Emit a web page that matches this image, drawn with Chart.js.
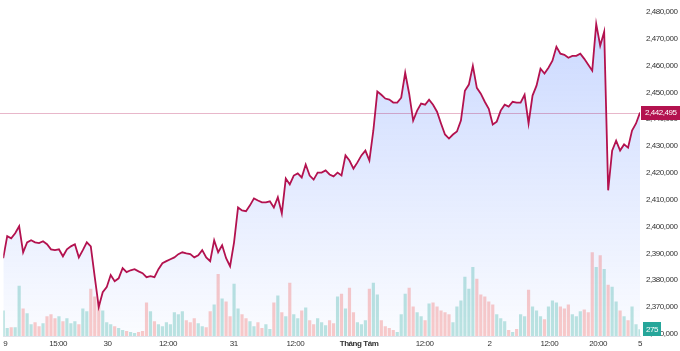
<!DOCTYPE html>
<html>
<head>
<meta charset="utf-8">
<script src="https://cdn.jsdelivr.net/npm/chart.js@4"></script>
<style>
  html, body { margin: 0; padding: 0; background: #fff; }
  #wrap { width: 680px; height: 351px; }
</style>
</head>
<body>
<div id="wrap"><canvas id="myChart"></canvas></div>
<script>
// giá đóng cửa theo từng nhịp
const prices = [
  2388200, 2396400, 2395600, 2397500, 2400100, 2390400, 2394100, 2394900, 2394100, 2393800,
  2394500, 2393400, 2391500, 2391200, 2391500, 2388900, 2391500, 2392600, 2393400, 2388500,
  2391200, 2394100, 2392600, 2381100, 2370000, 2375500, 2377400, 2381900, 2379600, 2380700,
  2384500, 2383000, 2383700, 2384100, 2383300, 2382600, 2381100, 2381500, 2381100, 2384100,
  2386300, 2387100, 2387800, 2388500, 2389700, 2390400, 2390000, 2389700, 2388500, 2389300,
  2391200, 2388500, 2387100, 2394900, 2390400, 2393000, 2388200, 2385200, 2394100, 2407100,
  2406000, 2405700, 2407900, 2410500, 2409700, 2409000, 2409000, 2409400, 2407100, 2410900,
  2404900, 2417900, 2415700, 2419000, 2419800, 2418300, 2423100, 2419000, 2417500, 2420100,
  2420100, 2420900, 2419400, 2418700, 2420100, 2419000, 2426500, 2424600, 2421600, 2423900,
  2426500, 2428300, 2424600, 2435800, 2450300, 2449100, 2447700, 2447300, 2446200, 2446200,
  2448000, 2457300, 2449500, 2439500, 2443200, 2445800, 2445400, 2447300, 2445400, 2442800,
  2438400, 2434300, 2432800, 2434300, 2435400, 2439500, 2450600, 2452900, 2459900, 2451700,
  2449500, 2446500, 2443900, 2438000, 2439100, 2443200, 2445400, 2444700, 2446500, 2446200,
  2446200, 2449100, 2438400, 2448800, 2452500, 2458800, 2457000, 2459200, 2461800, 2467000,
  2464400, 2464000, 2462900, 2463600, 2463600, 2464400, 2462500, 2460300, 2458100, 2475500,
  2467400, 2472600, 2413500, 2428300, 2432000, 2428300, 2430600, 2429400, 2435800, 2438400,
  2442495
];

// khối lượng theo từng nhịp
const volumes = [
  1040, 320, 360, 360, 2040, 1120, 920, 480, 560, 400,
  520, 800, 880, 720, 800, 600, 720, 520, 600, 480,
  1120, 1000, 1920, 1600, 1400, 1040, 560, 480, 400, 320,
  240, 200, 160, 120, 160, 200, 1360, 1000, 600, 480,
  400, 560, 480, 960, 880, 1000, 640, 560, 720, 520,
  400, 360, 1000, 1280, 2520, 1520, 1400, 800, 2120, 1120,
  880, 720, 600, 400, 560, 320, 480, 280, 1360, 1640,
  960, 800, 2160, 880, 720, 1040, 1160, 640, 480, 720,
  560, 440, 640, 520, 1600, 1720, 1120, 1960, 960, 560,
  480, 640, 1920, 2160, 1680, 640, 400, 320, 240, 160,
  880, 1720, 1960, 1200, 960, 800, 640, 1320, 1360, 1200,
  1040, 960, 880, 560, 1200, 1440, 2400, 1920, 2800, 2320,
  1680, 1600, 1400, 1280, 880, 720, 600, 240, 160, 280,
  880, 800, 1880, 1200, 1040, 800, 680, 1200, 1440, 1360,
  1200, 1120, 1280, 880, 800, 1000, 1080, 960, 3400, 2800,
  3280, 2720, 2080, 2000, 1400, 1040, 800, 640, 1200, 480,
  275
];

// nhãn trục thời gian (vị trí theo số nhịp)
const xTickPos = [0.5, 13.8, 26.2, 41.4, 57.9, 73.4, 89.4, 105.9, 122.2, 137.2, 149.5, 160];
const xTickLabels = ['9', '15:00', '30', '12:00', '31', '12:00', 'Tháng Tám', '12:00', '2', '12:00', '20:00', '5'];

// nhãn trục giá
const yTickValues = [2360000, 2370000, 2380000, 2390000, 2400000, 2410000, 2420000,
  2430000, 2440000, 2450000, 2460000, 2470000, 2480000];

const lastPrice = prices[prices.length - 1];
const lastVolume = volumes[volumes.length - 1];

const idx = prices.map((p, i) => i);
const lineColor = '#b3124f';
const fontFamily = '"Liberation Sans", Arial, sans-serif';

const volColors = volumes.map((v, i) =>
  (i === 0 || prices[i] >= prices[i - 1]) ? 'rgba(38,166,154,0.3)' : 'rgba(239,83,80,0.3)');

const fmt = v => v.toLocaleString('en-US');

// chữ hẹp hơn một chút cho giống nhãn gốc
const tightText = {
  id: 'tightText',
  beforeDraw(chart) { chart.ctx.letterSpacing = '-0.45px'; }
};

// đường giá cuối + nhãn bên phải
const lastPricePlugin = {
  id: 'lastPrice',
  beforeDatasetsDraw(chart) {
    const { ctx, chartArea, scales } = chart;
    const y = Math.round(scales.y.getPixelForValue(lastPrice)) + 0.5;
    ctx.save();
    ctx.strokeStyle = 'rgba(179,18,79,0.3)';
    ctx.lineWidth = 1;
    ctx.beginPath();
    ctx.moveTo(0, y);
    ctx.lineTo(chartArea.right, y);
    ctx.stroke();
    ctx.restore();
  },
  afterDraw(chart) {
    const { ctx, chartArea, scales } = chart;
    ctx.save();
    ctx.font = '8px ' + fontFamily;
    ctx.textBaseline = 'middle';

    let y = scales.y.getPixelForValue(lastPrice);
    ctx.fillStyle = lineColor;
    ctx.fillRect(chartArea.right + 1, Math.round(y) - 7, 39, 14);
    ctx.fillStyle = '#fff';
    ctx.textAlign = 'left';
    ctx.fillText(fmt(lastPrice), chartArea.right + 5, y + 0.5);

    y = scales.y2.getPixelForValue(lastVolume);
    ctx.fillStyle = '#26a69a';
    ctx.fillRect(chartArea.right + 3, Math.round(y) - 7, 18, 14);
    ctx.fillStyle = '#fff';
    ctx.textAlign = 'center';
    ctx.fillText(String(lastVolume), chartArea.right + 12, y + 0.5);
    ctx.restore();
  }
};

const ctx = document.getElementById('myChart');
new Chart(ctx, {
  type: 'line',
  data: {
    labels: idx,
    datasets: [{
      type: 'line',
      data: idx.map(i => ({ x: i, y: prices[i] })),
      yAxisID: 'y',
      borderColor: lineColor,
      borderWidth: 1.8,
      pointRadius: 0,
      tension: 0,
      fill: 'start',
      backgroundColor: (c) => {
        const area = c.chart.chartArea;
        if (!area) return 'rgba(41,98,255,0.1)';
        const g = c.chart.ctx.createLinearGradient(0, 0, 0, area.bottom);
        g.addColorStop(0, 'rgba(41,98,255,0.26)');
        g.addColorStop(1, 'rgba(41,98,255,0.02)');
        return g;
      },
      order: 0
    }, {
      type: 'bar',
      data: idx.map(i => ({ x: i, y: volumes[i] })),
      yAxisID: 'y2',
      backgroundColor: volColors,
      barPercentage: 0.8,
      categoryPercentage: 1,
      order: 1
    }]
  },
  options: {
    animation: false,
    responsive: true,
    maintainAspectRatio: false,
    layout: { padding: 0 },
    plugins: {
      legend: { display: false },
      tooltip: { enabled: false },
      filler: { drawTime: 'beforeDatasetsDraw' }
    },
    scales: {
      x: {
        type: 'linear',
        offset: false,
        min: 0,
        max: 160,
        grid: { display: false, drawTicks: false },
        border: { color: '#e0e3eb' },
        afterBuildTicks: (s) => { s.ticks = xTickPos.map(v => ({ value: v })); },
        afterFit: (s) => { s.height = 15; },
        ticks: {
          autoSkip: false,
          maxRotation: 0,
          padding: 3,
          color: '#333',
          font: (c) => ({
            family: fontFamily,
            size: 8,
            weight: (c.tick && c.tick.label === 'Tháng Tám') ? 'bold' : 'normal'
          }),
          callback: (v) => xTickLabels[xTickPos.indexOf(v)]
        }
      },
      y: {
        position: 'right',
        min: 2359200,
        max: 2480400,
        grid: { display: false, drawTicks: false },
        border: { display: false },
        afterBuildTicks: (s) => { s.ticks = yTickValues.map(v => ({ value: v })); },
        afterFit: (s) => { s.width = 40; },
        ticks: {
          crossAlign: 'near',
          padding: 6,
          color: '#333',
          font: { family: fontFamily, size: 8 },
          callback: (v) => fmt(v)
        }
      },
      y2: {
        display: false,
        min: 0,
        max: 13200
      }
    }
  },
  plugins: [tightText, lastPricePlugin]
});
</script>
</body>
</html>
